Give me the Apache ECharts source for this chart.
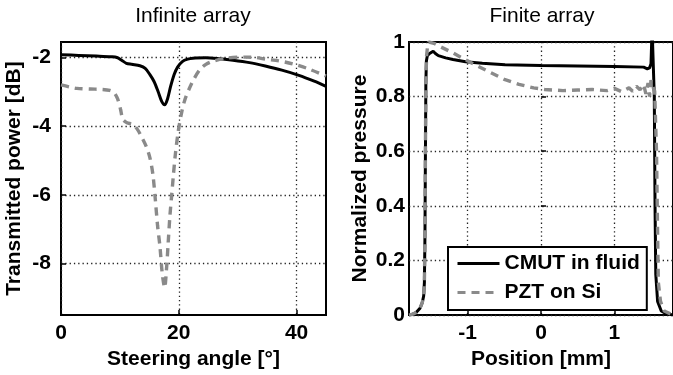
<!DOCTYPE html>
<html>
<head>
<meta charset="utf-8">
<script src="https://cdn.jsdelivr.net/npm/echarts@6/dist/echarts.min.js"></script>
<style>
html,body{margin:0;padding:0;background:#fff;}
#c{width:673px;height:375px;}
</style>
</head>
<body>
<div id="c"></div>
<script>
// ---- Infinite array (left) ----
const infCmutAngle = [0, 3, 6, 8.5, 9.5, 10.3, 11.1, 12, 13.4, 14.3, 15.1, 15.8, 16.5, 17.1, 17.6, 18.1, 18.6, 19.2, 19.8, 20.6, 21.5, 22.4, 24.6, 27, 29.2, 32, 34.7, 37.5, 40.4, 43, 45];
const infCmutDb = [-1.92, -1.94, -1.96, -1.98, -2.0, -2.08, -2.17, -2.2, -2.24, -2.32, -2.5, -2.7, -3.0, -3.28, -3.38, -3.2, -2.85, -2.5, -2.28, -2.12, -2.05, -2.02, -2.01, -2.04, -2.08, -2.15, -2.25, -2.37, -2.52, -2.69, -2.84];
const infPztAngle = [0, 1.5, 2.7, 5, 7, 8.3, 9.0, 9.6, 10.1, 10.5, 11.2, 12.2, 13.0, 13.8, 14.5, 15.1, 15.6, 16.0, 16.4, 16.8, 17.2, 17.6, 17.9, 18.2, 18.5, 18.8, 19.1, 19.4, 19.9, 20.5, 21.0, 21.7, 22.5, 23.6, 24.6, 25.8, 28.1, 31.5, 33, 34.7, 37, 39.4, 42, 45];
const infPztDb = [-2.80, -2.86, -2.9, -2.92, -2.93, -2.96, -3.02, -3.2, -3.5, -3.8, -3.9, -3.95, -4.1, -4.35, -4.6, -4.92, -5.4, -6.1, -6.9, -7.5, -8.3, -8.7, -8.2, -7.4, -6.6, -6.0, -5.4, -4.85, -4.16, -3.59, -3.25, -2.94, -2.65, -2.35, -2.2, -2.11, -2.02, -1.99, -2.0, -2.05, -2.1, -2.19, -2.33, -2.54];
const infXTicks = [0, 20, 40];
const infYTicks = [-8, -6, -4, -2];

// ---- Finite array (right) ----
const finCmutPos = [-1.8, -1.75, -1.7, -1.65, -1.62, -1.6, -1.59, -1.582, -1.576, -1.57, -1.563, -1.55, -1.52, -1.47, -1.44, -1.4, -1.3, -1.2, -1.03, -0.8, -0.49, 0, 0.5, 1.0, 1.4, 1.45, 1.48, 1.5, 1.515, 1.53, 1.545, 1.555, 1.565, 1.59, 1.64, 1.7, 1.8];
const finCmutP = [0.0, 0.003, 0.01, 0.025, 0.045, 0.07, 0.12, 0.3, 0.6, 0.85, 0.93, 0.95, 0.958, 0.966, 0.958, 0.95, 0.942, 0.936, 0.928, 0.922, 0.917, 0.914, 0.912, 0.910, 0.908, 0.902, 0.905, 0.92, 1.05, 1.05, 0.8, 0.4, 0.15, 0.05, 0.015, 0.006, 0.0];
const finPztPos = [-1.8, -1.75, -1.7, -1.65, -1.62, -1.6, -1.59, -1.582, -1.576, -1.57, -1.56, -1.545, -1.53, -1.46, -1.39, -1.2, -0.94, -0.7, -0.49, -0.3, -0.1, 0.05, 0.3, 0.5, 0.7, 0.9, 1.0, 1.1, 1.2, 1.25, 1.3, 1.35, 1.4, 1.43, 1.46, 1.48, 1.5, 1.52, 1.55, 1.575, 1.59, 1.6, 1.63, 1.68, 1.8];
const finPztP = [0.0, 0.003, 0.01, 0.025, 0.045, 0.07, 0.12, 0.3, 0.6, 0.85, 0.95, 0.99, 1.0, 0.995, 0.985, 0.96, 0.922, 0.89, 0.862, 0.845, 0.832, 0.826, 0.822, 0.824, 0.826, 0.822, 0.83, 0.818, 0.832, 0.82, 0.838, 0.825, 0.845, 0.81, 0.85, 0.80, 0.86, 0.84, 0.82, 0.6, 0.3, 0.12, 0.05, 0.015, 0.0];
const finXTicks = [-1, 0, 1];

const seriesNames = ['CMUT in fluid', 'PZT on Si'];
const titles = ['Infinite array', 'Finite array'];
const axisNames = ['Steering angle [°]', 'Transmitted power [dB]', 'Position [mm]', 'Normalized pressure'];

const zip = (a, b) => a.map((v, i) => [v, b[i]]);
const FONT = 'Liberation Sans, Arial, Helvetica, sans-serif';
const labelStyle = { fontFamily: FONT, fontWeight: 'bold', fontSize: 21, color: '#000' };
const gridLine = { show: true, lineStyle: { color: '#222', width: 1.3, type: [1.3, 3] } };
const tick = { show: true, inside: true, length: 5, lineStyle: { color: '#000', width: 1.5 } };
const cmutStyle = { color: '#000', width: 3, type: 'solid' };
const pztStyle = { color: '#8a8a8a', width: 3.4, type: [8, 6] };

const chart = echarts.init(document.getElementById('c'), null, { renderer: 'canvas' });
chart.setOption({
  animation: false,
  backgroundColor: '#fff',
  graphic: [
    { type: 'text', x: 193, y: 16.5, style: { text: titles[0], textAlign: 'center', textVerticalAlign: 'middle', fontFamily: FONT, fontSize: 21, fill: '#000' } },
    { type: 'text', x: 542, y: 16.5, style: { text: titles[1], textAlign: 'center', textVerticalAlign: 'middle', fontFamily: FONT, fontSize: 21, fill: '#000' } }
  ],
  grid: [
    { left: 61, top: 42, width: 265, height: 278, show: true, borderColor: '#000', borderWidth: 2, backgroundColor: 'transparent' },
    { left: 409, top: 42, width: 266, height: 278, show: true, borderColor: '#000', borderWidth: 2, backgroundColor: 'transparent' }
  ],
  xAxis: [
    { type: 'value', gridIndex: 0, min: 0, max: 45,
      name: axisNames[0], nameLocation: 'middle', nameGap: 29, nameTextStyle: labelStyle,
      axisLine: { show: false }, axisTick: Object.assign({ customValues: infXTicks }, tick),
      axisLabel: Object.assign({ customValues: infXTicks, margin: 8 }, labelStyle),
      splitLine: gridLine },
    { type: 'value', gridIndex: 1, min: -1.8, max: 1.8,
      name: axisNames[2], nameLocation: 'middle', nameGap: 27, nameTextStyle: labelStyle,
      axisLine: { show: false }, axisTick: Object.assign({ customValues: finXTicks }, tick),
      axisLabel: Object.assign({ customValues: finXTicks, margin: 8 }, labelStyle),
      splitLine: gridLine }
  ],
  yAxis: [
    { type: 'value', gridIndex: 0, min: -9.5, max: -1.55,
      name: axisNames[1], nameLocation: 'middle', nameGap: 36, nameTextStyle: labelStyle,
      axisLine: { show: false }, axisTick: Object.assign({ customValues: infYTicks }, tick),
      axisLabel: Object.assign({ customValues: infYTicks, margin: 10 }, labelStyle),
      splitLine: gridLine },
    { type: 'value', gridIndex: 1, min: 0, max: 1, interval: 0.2,
      name: axisNames[3], nameLocation: 'middle', nameGap: 38, nameTextStyle: labelStyle,
      axisLine: { show: false }, axisTick: tick,
      axisLabel: Object.assign({ margin: 4 }, labelStyle),
      splitLine: gridLine }
  ],
  legend: {
    data: seriesNames,
    orient: 'vertical', left: 448, top: 247,
    backgroundColor: '#fff', borderColor: '#000', borderWidth: 2, borderRadius: 0,
    padding: [6, 7, 7, 8], itemWidth: 42, itemHeight: 14, itemGap: 8,
    itemStyle: { opacity: 0 },
    lineStyle: { width: 3 },
    textStyle: labelStyle, selectedMode: false
  },
  series: [
    { name: seriesNames[0], type: 'line', xAxisIndex: 0, yAxisIndex: 0, data: zip(infCmutAngle, infCmutDb), symbol: 'none', smooth: 0.3, lineStyle: cmutStyle, itemStyle: { color: '#000' } },
    { name: seriesNames[1], type: 'line', xAxisIndex: 0, yAxisIndex: 0, data: zip(infPztAngle, infPztDb), symbol: 'none', smooth: 0.3, lineStyle: pztStyle, itemStyle: { color: '#8a8a8a' } },
    { name: seriesNames[0], type: 'line', xAxisIndex: 1, yAxisIndex: 1, data: zip(finCmutPos, finCmutP), symbol: 'none', lineStyle: cmutStyle, itemStyle: { color: '#000' } },
    { name: seriesNames[1], type: 'line', xAxisIndex: 1, yAxisIndex: 1, data: zip(finPztPos, finPztP), symbol: 'none', lineStyle: pztStyle, itemStyle: { color: '#8a8a8a' } }
  ]
});
</script>
</body>
</html>
